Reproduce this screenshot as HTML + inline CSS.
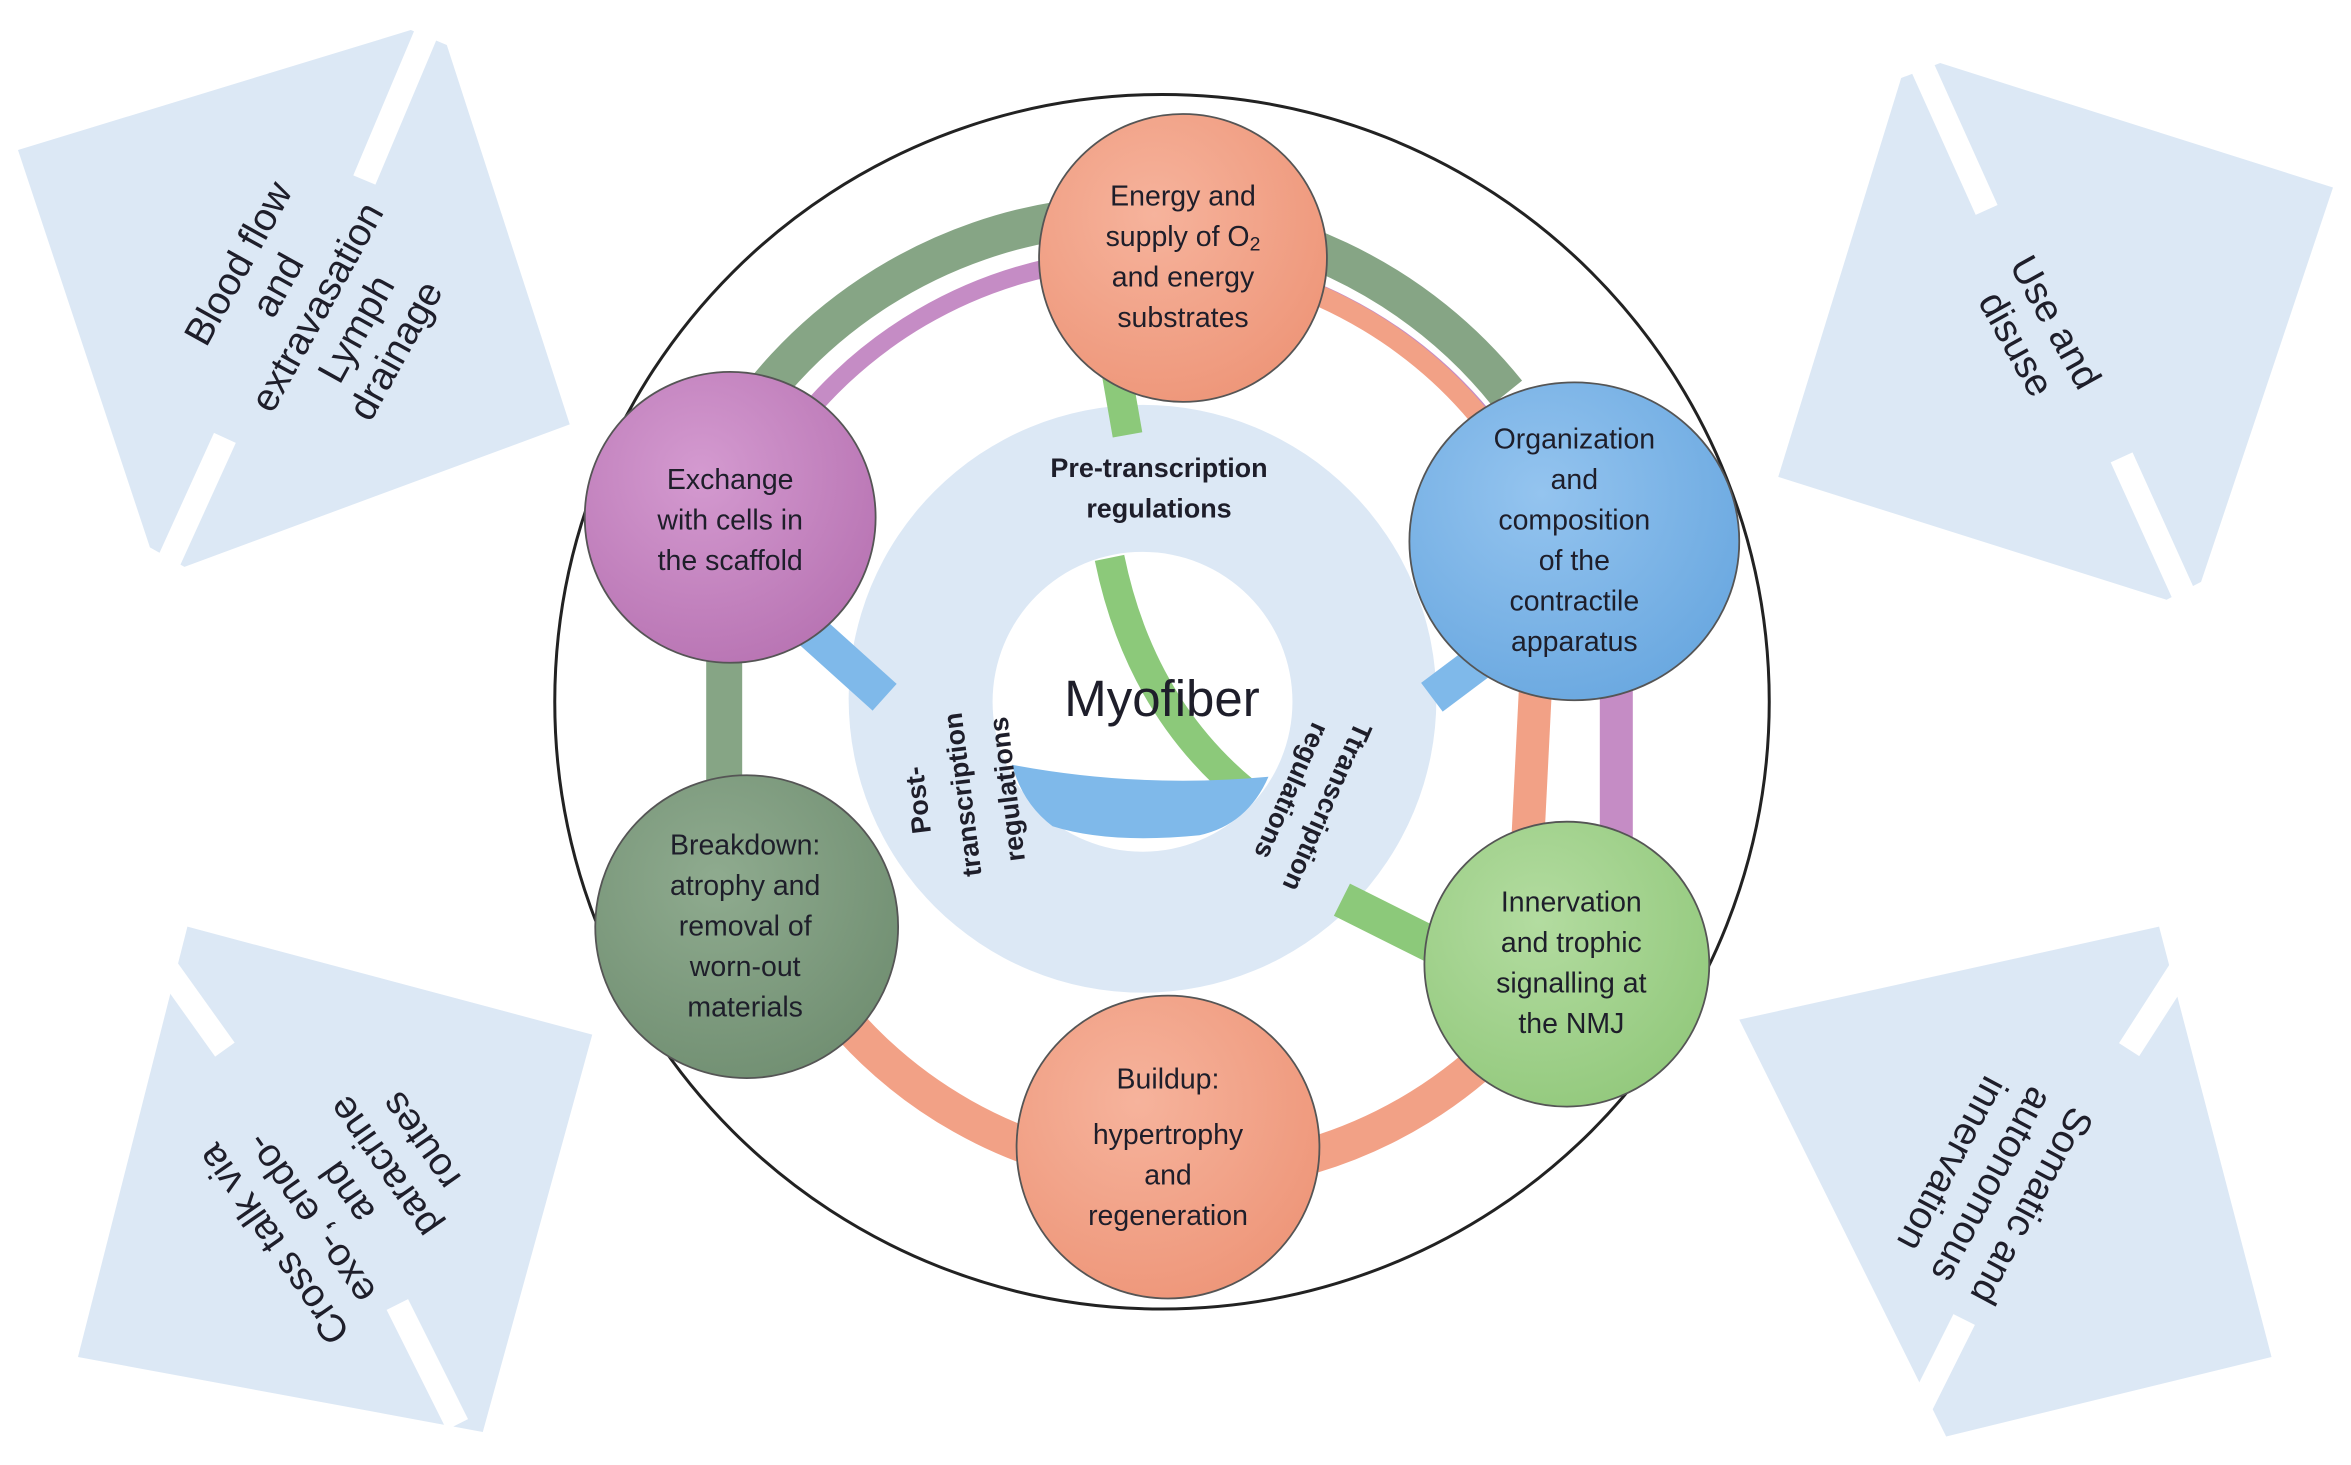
<!DOCTYPE html>
<html><head><meta charset="utf-8">
<style>
html,body{margin:0;padding:0;background:#fff;}
svg{display:block;}
text{font-family:"Liberation Sans",sans-serif;fill:#1e1e2a;}
</style></head>
<body>
<svg width="2351" height="1465" viewBox="0 0 1568 977" xmlns="http://www.w3.org/2000/svg">
<defs>
<radialGradient id="gO" cx="40%" cy="35%" r="70%"><stop offset="0" stop-color="#f6b39c"/><stop offset="1" stop-color="#ee9679"/></radialGradient>
<radialGradient id="gB" cx="40%" cy="35%" r="70%"><stop offset="0" stop-color="#94c4ef"/><stop offset="1" stop-color="#6aa8e0"/></radialGradient>
<radialGradient id="gG" cx="40%" cy="35%" r="70%"><stop offset="0" stop-color="#b3dca0"/><stop offset="1" stop-color="#93c97d"/></radialGradient>
<radialGradient id="gD" cx="40%" cy="35%" r="70%"><stop offset="0" stop-color="#8fab8f"/><stop offset="1" stop-color="#718f72"/></radialGradient>
<radialGradient id="gP" cx="40%" cy="35%" r="70%"><stop offset="0" stop-color="#d49ad0"/><stop offset="1" stop-color="#b874b3"/></radialGradient>
</defs>

<g fill="#dce8f5">
<polygon points="12,100 274,20 298,30 380,283 123,378 100,365"/>
<polygon points="1556,125 1294,42 1268,52 1186,318 1445,400 1468,388"/>
<polygon points="125,618 395,690 322,955 52,905"/>
<polygon points="1440,618 1515,905 1298,958 1160,680"/>
</g>
<g stroke="#fff" stroke-width="16">
<line x1="286" y1="18" x2="243" y2="120"/>
<line x1="150" y1="292" x2="110" y2="380"/>
<line x1="1280" y1="40" x2="1325" y2="140"/>
<line x1="1415" y1="305" x2="1458" y2="400"/>
<line x1="100" y1="630" x2="150" y2="700"/>
<line x1="265" y1="870" x2="305" y2="950"/>
<line x1="1465" y1="630" x2="1420" y2="700"/>
<line x1="1310" y1="880" x2="1275" y2="950"/>
</g>

<g font-size="26">
<text transform="translate(212,205) rotate(-61)" text-anchor="middle">
<tspan x="0" y="-52">Blood flow</tspan><tspan x="0" y="-22">and</tspan><tspan x="0" y="8">extravasation</tspan><tspan x="0" y="38">Lymph</tspan><tspan x="0" y="68">drainage</tspan></text>
<text transform="translate(1358,222) rotate(61)" text-anchor="middle">
<tspan x="0" y="-6">Use and</tspan><tspan x="0" y="24">disuse</tspan></text>
<text transform="translate(232,795) rotate(-125)" text-anchor="middle">
<tspan x="0" y="-52">Cross talk via</tspan><tspan x="0" y="-22">exo-, endo-</tspan><tspan x="0" y="8">and</tspan><tspan x="0" y="38">paracrine</tspan><tspan x="0" y="68">routes</tspan></text>
<text transform="translate(1328,790) rotate(118)" text-anchor="middle">
<tspan x="0" y="-22">Somatic and</tspan><tspan x="0" y="8">autonomous</tspan><tspan x="0" y="38">innervation</tspan></text>
</g>

<circle cx="775" cy="468" r="405" fill="#fff" stroke="#222" stroke-width="2"/>
<circle cx="762" cy="466" r="196" fill="#dce8f5"/>

<g fill="none" stroke-linecap="butt">
<path d="M 483 300 A 318 318 0 0 1 1005 262" stroke="#86a585" stroke-width="26"/>
<path d="M 520 300 A 294 294 0 0 1 995 285" stroke="#c58cc5" stroke-width="12"/>
<path d="M 800 175 A 292 292 0 0 1 1000 295" stroke="#f2a186" stroke-width="14"/>
<path d="M 483 420 L 483 540" stroke="#86a585" stroke-width="24"/>
<path d="M 540 650 A 300 300 0 0 0 1045 640" stroke="#f2a186" stroke-width="24"/>
<path d="M 1025 440 L 1018 580" stroke="#f2a186" stroke-width="22"/>
<path d="M 1078 440 L 1078 570" stroke="#c58cc5" stroke-width="22"/>
<path d="M 540 420 L 590 465" stroke="#7fb9ea" stroke-width="24"/>
<path d="M 955 465 L 995 435" stroke="#7fb9ea" stroke-width="24"/>
<path d="M 895 600 L 965 635" stroke="#8cc97a" stroke-width="24"/>
<path d="M 745 250 L 752 290" stroke="#8cc97a" stroke-width="20"/>
</g>

<circle cx="762" cy="468" r="100" fill="#fff"/>
<path d="M 740 372 Q 760 470 830 528" fill="none" stroke="#8cc97a" stroke-width="20"/>
<path d="M 675 510 Q 760 526 846 518 Q 832 550 800 557 Q 740 563 702 551 Q 682 536 675 510 Z" fill="#7fb9ea"/>

<text x="775" y="466" font-size="34" text-anchor="middle" dominant-baseline="central" fill="#111">Myofiber</text>
<g font-size="18" font-weight="bold">
<text x="773" y="312" text-anchor="middle" dominant-baseline="central">Pre-transcription</text>
<text x="773" y="339" text-anchor="middle" dominant-baseline="central">regulations</text>
<text transform="translate(642,530) rotate(-97)" text-anchor="middle">
<tspan x="0" y="-24">Post-</tspan><tspan x="0" y="6">transcription</tspan><tspan x="0" y="36">regulations</tspan></text>
<text transform="translate(876,534) rotate(114)" text-anchor="middle">
<tspan x="0" y="-4">Ttranscription</tspan><tspan x="0" y="22">regulations</tspan></text>
</g>

<g stroke="#555" stroke-width="1.2">
<circle cx="789" cy="172" r="96" fill="url(#gO)"/>
<ellipse cx="1050" cy="361" rx="110" ry="106" fill="url(#gB)"/>
<circle cx="1045" cy="643" r="95" fill="url(#gG)"/>
<circle cx="779" cy="765" r="101" fill="url(#gO)"/>
<circle cx="498" cy="618" r="101" fill="url(#gD)"/>
<circle cx="487" cy="345" r="97" fill="url(#gP)"/>
</g>

<g font-size="19" text-anchor="middle" dominant-baseline="central">
<text x="789" y="131">Energy and</text>
<text x="789" y="158">supply of O<tspan font-size="13" dy="5">2</tspan></text>
<text x="789" y="185">and energy</text>
<text x="789" y="212">substrates</text>

<text x="1050" y="293">Organization</text>
<text x="1050" y="320">and</text>
<text x="1050" y="347">composition</text>
<text x="1050" y="374">of the</text>
<text x="1050" y="401">contractile</text>
<text x="1050" y="428">apparatus</text>

<text x="1048" y="602">Innervation</text>
<text x="1048" y="629">and trophic</text>
<text x="1048" y="656">signalling at</text>
<text x="1048" y="683">the NMJ</text>

<text x="779" y="720">Buildup:</text>
<text x="779" y="757">hypertrophy</text>
<text x="779" y="784">and</text>
<text x="779" y="811">regeneration</text>

<text x="497" y="564">Breakdown:</text>
<text x="497" y="591">atrophy and</text>
<text x="497" y="618">removal of</text>
<text x="497" y="645">worn-out</text>
<text x="497" y="672">materials</text>

<text x="487" y="320">Exchange</text>
<text x="487" y="347">with cells in</text>
<text x="487" y="374">the scaffold</text>
</g>
</svg>
</body></html>
